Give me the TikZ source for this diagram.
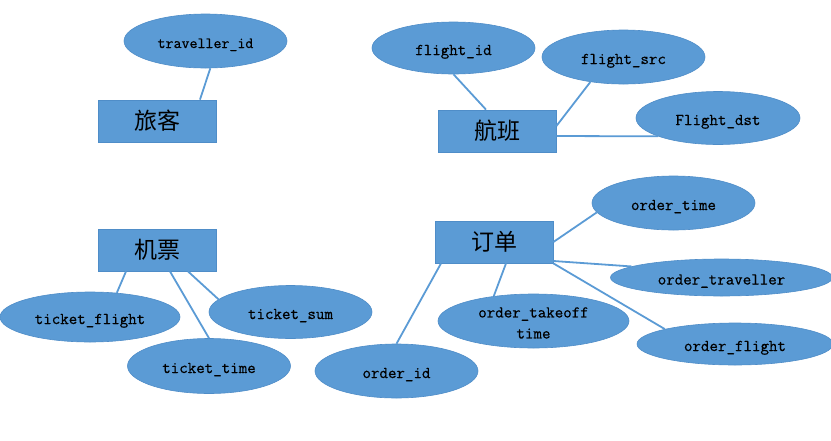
\documentclass[tikz,border=0pt]{standalone}
\usepackage{fontspec}
\newfontfamily\cjk{Noto Sans CJK SC}
\newfontfamily\attrfont[FakeBold=0.6]{Latin Modern Mono}
\usetikzlibrary{shapes.geometric}
\definecolor{erfill}{HTML}{5B9BD5}
\definecolor{erline}{HTML}{5B9BD5}
\definecolor{erborder}{HTML}{4F8DC8}
\tikzset{
  ent/.style={rectangle, fill=erfill, draw=erborder, line width=0.8pt,
    minimum width=118pt, minimum height=42pt, inner sep=0pt,
    font=\cjk\fontsize{23}{26}\selectfont, text=black},
  attrbase/.style={ellipse, fill=erfill, draw=erborder, line width=0.6pt, inner sep=0pt,
    font=\attrfont\fontsize{16.5}{21}\selectfont, text=black, align=center},
  attr/.style={attrbase, text height=15pt, text depth=1pt},
  conn/.style={draw=erline, line width=1.8pt},
}
\begin{document}
\begin{tikzpicture}[x=1pt,y=-1pt]
\useasboundingbox (0,0) rectangle (831,440);
\clip (0,0) rectangle (831,440);
% entities
\node[ent] (trav) at (157,121) {旅客};
\node[ent] (fl) at (497,131) {航班};
\node[ent] (tk) at (157,250) {机票};
\node[ent] (od) at (494,242) {订单};
% attributes
\node[attr, minimum width=163pt, minimum height=54pt, font=\attrfont\fontsize{15.5}{20}\selectfont] (tid) at (205.5,41) {traveller\_id};
\node[attr, minimum width=163pt, minimum height=52pt] (fid) at (453.5,48) {flight\_id};
\node[attr, minimum width=163pt, minimum height=54pt] (fsrc) at (623.5,57) {flight\_src};
\node[attr, minimum width=164pt, minimum height=53pt] (fdst) at (718,118) {Flight\_dst};
\node[attr, minimum width=180pt, minimum height=50pt] (tfl) at (90,317) {ticket\_flight};
\node[attr, minimum width=163pt, minimum height=53pt] (tsum) at (290.5,312) {ticket\_sum};
\node[attr, minimum width=163pt, minimum height=55pt] (ttm) at (209,366) {ticket\_time};
\node[attr, minimum width=163pt, minimum height=54pt] (ot) at (673.5,203) {order\_time};
\node[attr, minimum width=222pt, minimum height=37pt] (otr) at (721.5,277.5) {order\_traveller};
\node[attrbase, minimum width=191pt, minimum height=54pt] (oto) at (533.5,321) {\rule{0pt}{14pt}order\_takeoff\\time};
\node[attr, minimum width=196pt, minimum height=42pt] (ofl) at (735,344) {order\_flight};
\node[attr, minimum width=163pt, minimum height=54pt] (oid) at (396.5,371) {order\_id};
% connectors
\draw[conn] (tid.-80) -- ([xshift=43pt]trav.north);
\draw[conn] (fid.south) -- ([xshift=-11pt]fl.north);
\draw[conn] (fsrc.-143) -- ([yshift=5pt]fl.east);
\draw[conn] ([yshift=-5pt]fl.east) -- (fdst.-163);
\draw[conn] ([xshift=-31pt]tk.south) -- (tfl.42);
\draw[conn] ([xshift=13pt]tk.south) -- (ttm.north);
\draw[conn] ([xshift=31pt]tk.south) -- (tsum.170);
\draw[conn] (od.east) -- (ot.187);
\draw[conn] ([yshift=-19pt]od.east) -- (otr.173);
\draw[conn] (od.south east) -- (ofl.168);
\draw[conn] ([xshift=12pt]od.south) -- (oto.148);
\draw[conn] ([xshift=-53pt]od.south) -- (oid.north);
\end{tikzpicture}
\end{document}
